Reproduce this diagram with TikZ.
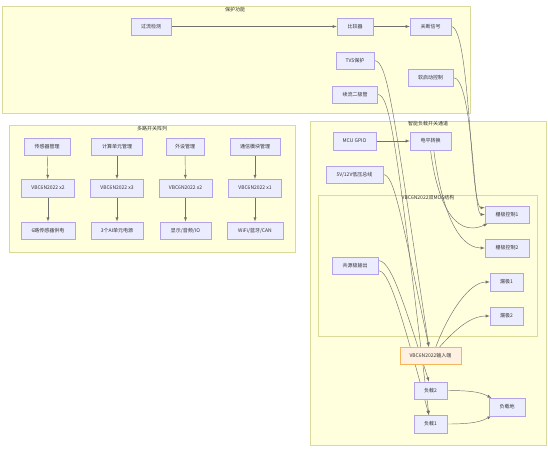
\documentclass[tikz,border=0pt]{standalone}
\usepackage{fontspec}
\setmainfont{Noto Sans CJK SC}
\definecolor{boxfill}{HTML}{ECECFF}
\definecolor{boxline}{HTML}{B3A3EA}
\definecolor{grpfill}{HTML}{FFFFDE}
\definecolor{grpline}{HTML}{DADA9A}
\definecolor{vinfill}{HTML}{FFF1E2}
\definecolor{vinline}{HTML}{F7B55A}
\definecolor{txtc}{HTML}{333333}
\definecolor{wirec}{HTML}{707070}
\pgfdeclarelayer{grplayer}
\pgfdeclarelayer{wirelayer}
\pgfsetlayers{grplayer,wirelayer,main}
\begin{document}
\begin{tikzpicture}[x=1pt,y=-1pt,
    every node/.style={font=\fontsize{5}{6}\selectfont,text=txtc},
    box/.style={draw=boxline,fill=boxfill,line width=0.5pt,minimum height=17.5pt,inner sep=0pt},
    vinbox/.style={box,draw=vinline,fill=vinfill,line width=1pt},
    grp/.style={draw=grpline,fill=grpfill,line width=0.5pt},
    wire/.style={draw=wirec,line width=0.45pt,-latex}]
        \useasboundingbox (0,0) rectangle (548,453);
        % groups
        \begin{pgfonlayer}{grplayer}
        \draw[grp] (2,6) rectangle (470,113);
        \draw[grp] (9,125) rectangle (295,252);
        \draw[grp] (310,121) rectangle (546,445);
        \draw[grp] (318,195) rectangle (537,336);
        \end{pgfonlayer}
        \node at (235,10)  (tprot) {保护功能};
        \node at (152,129) (tarr)  {多路开关阵列};
        \node at (428,124) (tch)   {智能负载开关通道};
        \node at (428,198) (tmos)  {VBC6N2022双MOS结构};
        % protection
        \node[box,minimum width=40pt] at (151,26.5)  (ocd)  {过流检测};
        \node[box,minimum width=36pt] at (355,26.5)  (cmp)  {比较器};
        \node[box,minimum width=41pt] at (430.5,26.5) (off) {关断信号};
        \node[box,minimum width=38pt] at (355,60.5)  (tvs)  {TVS保护};
        \node[box,minimum width=45pt] at (430.5,77.5) (soft) {软启动控制};
        \node[box,minimum width=45pt] at (355,94.5)  (fwd)  {续流二极管};
        % switch array
        \node[box,minimum width=46pt] at (47,146.5)  (m1) {传感器管理};
        \node[box,minimum width=51pt] at (117,146.5) (m2) {计算单元管理};
        \node[box,minimum width=38pt] at (185,146.5) (m3) {外设管理};
        \node[box,minimum width=50pt] at (255,146.5) (m4) {通信模块管理};
        \node[box,minimum width=53pt] at (48,188)    (v1) {VBC6N2022 x2};
        \node[box,minimum width=53pt] at (117,188)   (v2) {VBC6N2022 x3};
        \node[box,minimum width=53pt] at (185.5,188) (v3) {VBC6N2022 x2};
        \node[box,minimum width=53pt] at (255,188)   (v4) {VBC6N2022 x1};
        \node[box,minimum width=54pt] at (48,230.5)  (o1) {6路传感器供电};
        \node[box,minimum width=52pt] at (117,230.5) (o2) {3个AI单元电源};
        \node[box,minimum width=51pt] at (185.5,230.5) (o3) {显示/音频/IO};
        \node[box,minimum width=56pt] at (255,230.5) (o4) {WiFi/蓝牙/CAN};
        % load channel
        \node[box,minimum width=43pt] at (354.5,141) (mcu) {MCU GPIO};
        \node[box,minimum width=41pt] at (430.5,141) (ls)  {电平转换};
        \node[box,minimum width=57pt] at (354.5,174.5) (bus) {5V/12V低压总线};
        \node[box,minimum width=44pt] at (507,214.5) (g1)  {栅极控制1};
        \node[box,minimum width=44pt] at (507,248)   (g2)  {栅极控制2};
        \node[box,minimum width=46pt] at (355,265.5) (cso) {共源极输出};
        \node[box,minimum width=33pt] at (506.5,282) (d1)  {漏极1};
        \node[box,minimum width=33pt] at (506.5,316) (d2)  {漏极2};
        \node[vinbox,minimum width=61pt] at (430.5,356) (vin) {VBC6N2022输入端};
        \node[box,minimum width=33pt] at (430.5,390.5) (ld2) {负载2};
        \node[box,minimum width=33pt] at (430.5,424)   (ld1) {负载1};
        \node[box,minimum width=36pt] at (507,407)     (gnd) {负载地};
        % connectors
        \begin{pgfonlayer}{wirelayer}
        \draw[wire] (ocd) -- (cmp);
        \draw[wire] (cmp) -- (off);
        \draw[wire] (off.east) .. controls (470,26.5) and (470,208) .. (g1.163);
        \draw[wire] (soft.east) .. controls (473,77.5) and (473,214.5) .. (g1.west);
        \draw[wire] (ls.south) .. controls (436,195) and (452,240) .. (g1.205);
        \draw[wire] (ls.290) .. controls (440,200) and (455,248) .. (g2.west);
        \draw[wire] (mcu) -- (ls);
        \draw[wire] (bus.east) .. controls (394,175) and (400,210) .. (vin.100);
        \draw[wire] (tvs.east) .. controls (388,61) and (393,110) .. (vin.100);
        \draw[wire] (fwd.east) .. controls (390,95) and (396,140) .. (ld1.100);
        \draw[wire] (cso.12) .. controls (390,261) and (400,290) .. (ld2.100);
        \draw[wire] (cso.-12) .. controls (388,271) and (398,300) .. (ld1.100);
        \draw[wire] (vin.60) .. controls (450,310) and (470,282) .. (d1.west);
        \draw[wire] (vin.45) .. controls (455,330) and (470,316) .. (d2.west);
        \draw[wire] (ld2.east) .. controls (475,390.5) and (482,393) .. (gnd.150);
        \draw[wire] (ld1.east) .. controls (475,424) and (482,421) .. (gnd.210);
        \foreach \i in {1,...,4} {
          \draw[wire] (m\i) -- (v\i);
          \draw[wire] (v\i) -- (o\i);
        }
        \end{pgfonlayer}
\end{tikzpicture}
\end{document}
